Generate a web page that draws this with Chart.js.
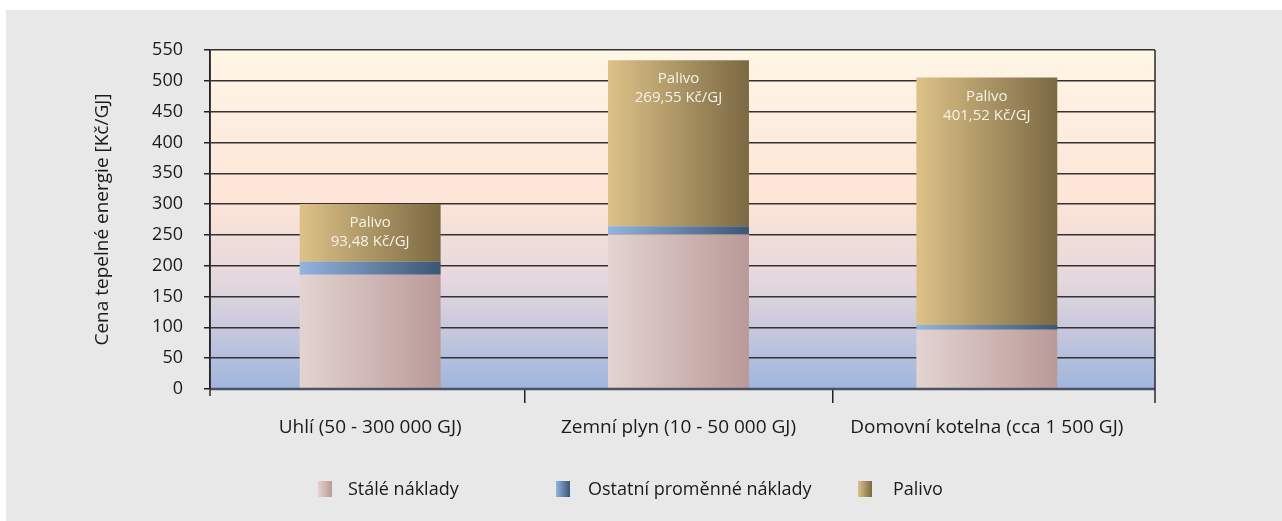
<!DOCTYPE html>
<html>
<head>
<meta charset="utf-8">
<script src="https://cdn.jsdelivr.net/npm/chart.js@4.4.1/dist/chart.umd.min.js"></script>
<style>
html,body{margin:0;padding:0;background:#fff;}
#wrap{position:absolute;left:6px;top:10px;width:1276px;height:511px;background:#e8e8e8;}
canvas{display:block;}
</style>
</head>
<body>
<div id="wrap"><canvas id="c" width="1276" height="511"></canvas></div>
<script>
const categories = ['Uhlí (50 - 300 000 GJ)', 'Zemní plyn (10 - 50 000 GJ)', 'Domovní kotelna (cca 1 500 GJ)'];
const staleNaklady = [185.5, 251, 96];
const ostatniNaklady = [21, 13, 8];
const palivo = [93.48, 269.55, 401.52];
const yTicks = [0, 50, 100, 150, 200, 250, 300, 350, 400, 450, 500, 550];
const seriesNames = ['Stálé náklady', 'Ostatní proměnné náklady', 'Palivo'];

const FONT = "'Open Sans', 'Noto Sans', sans-serif";
const TXT = '#1a1a1a';
const BAR_PCT = 0.457;
const grads = [
  ['#e3d4d1', '#ba9a98'],
  ['#92b4de', '#3b5574'],
  ['#ddc288', '#7b6943']
];

function barGrad(i) {
  return (ctx) => {
    const chart = ctx.chart;
    const xs = chart.scales && chart.scales.x;
    if (!chart.chartArea || !xs || ctx.dataIndex === undefined) return grads[i][0];
    const cx = xs.getPixelForValue(ctx.dataIndex);
    const w = (xs.right - xs.left) / categories.length * BAR_PCT;
    const g = chart.ctx.createLinearGradient(cx - w / 2, 0, cx + w / 2, 0);
    g.addColorStop(0, grads[i][0]);
    g.addColorStop(1, grads[i][1]);
    return g;
  };
}

// The reference places its bars a little inside the plot frame
const xInset = {
  id: 'xInset',
  afterLayout(chart) {
    const s = chart.scales.x;
    const a = chart.chartArea;
    s.left = a.left + 6;
    s.right = a.right - 14;
    s.width = s.right - s.left;
    s.configure();
  }
};

const plotBg = {
  id: 'plotBg',
  beforeDraw(chart) {
    const {ctx, chartArea: a} = chart;
    const g = ctx.createLinearGradient(0, a.top, 0, a.bottom);
    g.addColorStop(0, '#fff6e6');
    g.addColorStop(0.45, '#fde4d7');
    g.addColorStop(0.7, '#e2d6de');
    g.addColorStop(1, '#a0b5dd');
    ctx.save();
    ctx.fillStyle = g;
    ctx.fillRect(a.left, a.top, a.right - a.left, a.bottom - a.top);
    ctx.restore();
  },
  afterDraw(chart) {
    const {ctx, chartArea: a} = chart;
    ctx.save();
    ctx.strokeStyle = '#4b5262';
    ctx.lineWidth = 2.5;
    ctx.beginPath();
    ctx.moveTo(a.left, a.bottom);
    ctx.lineTo(a.right, a.bottom);
    ctx.stroke();
    ctx.strokeStyle = '#2a2a2a';
    ctx.lineWidth = 1.5;
    ctx.beginPath();
    ctx.moveTo(a.right, a.top);
    ctx.lineTo(a.right, a.bottom + 14);
    ctx.moveTo(a.left, a.top);
    ctx.lineTo(a.left, a.bottom + 7);
    ctx.stroke();
    ctx.restore();
  }
};

const fmt = (v) => v.toFixed(2).replace('.', ',');

const palivoLabels = {
  id: 'palivoLabels',
  afterDatasetsDraw(chart) {
    const meta = chart.getDatasetMeta(2);
    const ctx = chart.ctx;
    ctx.save();
    ctx.fillStyle = '#f7f2e8';
    ctx.font = '15px ' + FONT;
    ctx.textAlign = 'center';
    ctx.textBaseline = 'middle';
    meta.data.forEach((el, i) => {
      ctx.fillText('Palivo', el.x, el.y + 19);
      ctx.fillText(fmt(palivo[i]) + ' Kč/GJ', el.x, el.y + 38);
    });
    ctx.restore();
  }
};

const legendPlugin = {
  id: 'customLegend',
  afterDraw(chart) {
    const ctx = chart.ctx;
    const boxX = [312, 550, 852];
    const textX = [342, 582, 887];
    const yc = 479;
    ctx.save();
    ctx.font = '18px ' + FONT;
    ctx.textBaseline = 'middle';
    ctx.textAlign = 'left';
    seriesNames.forEach((name, i) => {
      const g = ctx.createLinearGradient(boxX[i], 0, boxX[i] + 14, 0);
      g.addColorStop(0, grads[i][0]);
      g.addColorStop(1, grads[i][1]);
      ctx.fillStyle = g;
      ctx.fillRect(boxX[i], yc - 8, 14, 16);
      ctx.fillStyle = TXT;
      ctx.fillText(name, textX[i], yc + 1);
    });
    ctx.restore();
  }
};

new Chart(document.getElementById('c'), {
  type: 'bar',
  data: {
    labels: categories,
    datasets: [
      {label: seriesNames[0], data: staleNaklady, backgroundColor: barGrad(0)},
      {label: seriesNames[1], data: ostatniNaklady, backgroundColor: barGrad(1)},
      {label: seriesNames[2], data: palivo, backgroundColor: barGrad(2)}
    ]
  },
  options: {
    responsive: false,
    devicePixelRatio: 1,
    animation: false,
    barPercentage: BAR_PCT,
    categoryPercentage: 1,
    layout: {padding: {left: 0, top: 40, right: 127, bottom: 0}},
    plugins: {legend: {display: false}, tooltip: {enabled: false}},
    scales: {
      x: {
        stacked: true,
        afterFit(s) { s.height = 132; },
        border: {display: false},
        grid: {
          offset: true,
          drawOnChartArea: false,
          color: '#222',
          tickColor: (c) => (c.index === 1 || c.index === 2) ? '#222' : 'rgba(0,0,0,0)',
          tickLength: 14,
          lineWidth: 1.5
        },
        ticks: {color: TXT, font: {family: FONT, size: 19}, padding: 13, maxRotation: 0, autoSkip: false}
      },
      y: {
        stacked: true,
        min: 0,
        max: 550,
        afterFit(s) { s.width = 204; },
        afterBuildTicks(s) { s.ticks = yTicks.map(v => ({value: v})); },
        border: {display: true, color: '#111', width: 1.5},
        grid: {color: '#333', lineWidth: 1.5, tickLength: 6, tickColor: '#222'},
        ticks: {color: TXT, font: {family: FONT, size: 18}, padding: 21},
        title: {display: true, text: 'Cena tepelné energie [Kč/GJ]', color: TXT, font: {family: FONT, size: 19}, padding: {top: 85, bottom: 0}}
      }
    }
  },
  plugins: [xInset, plotBg, palivoLabels, legendPlugin]
});
</script>
</body>
</html>
